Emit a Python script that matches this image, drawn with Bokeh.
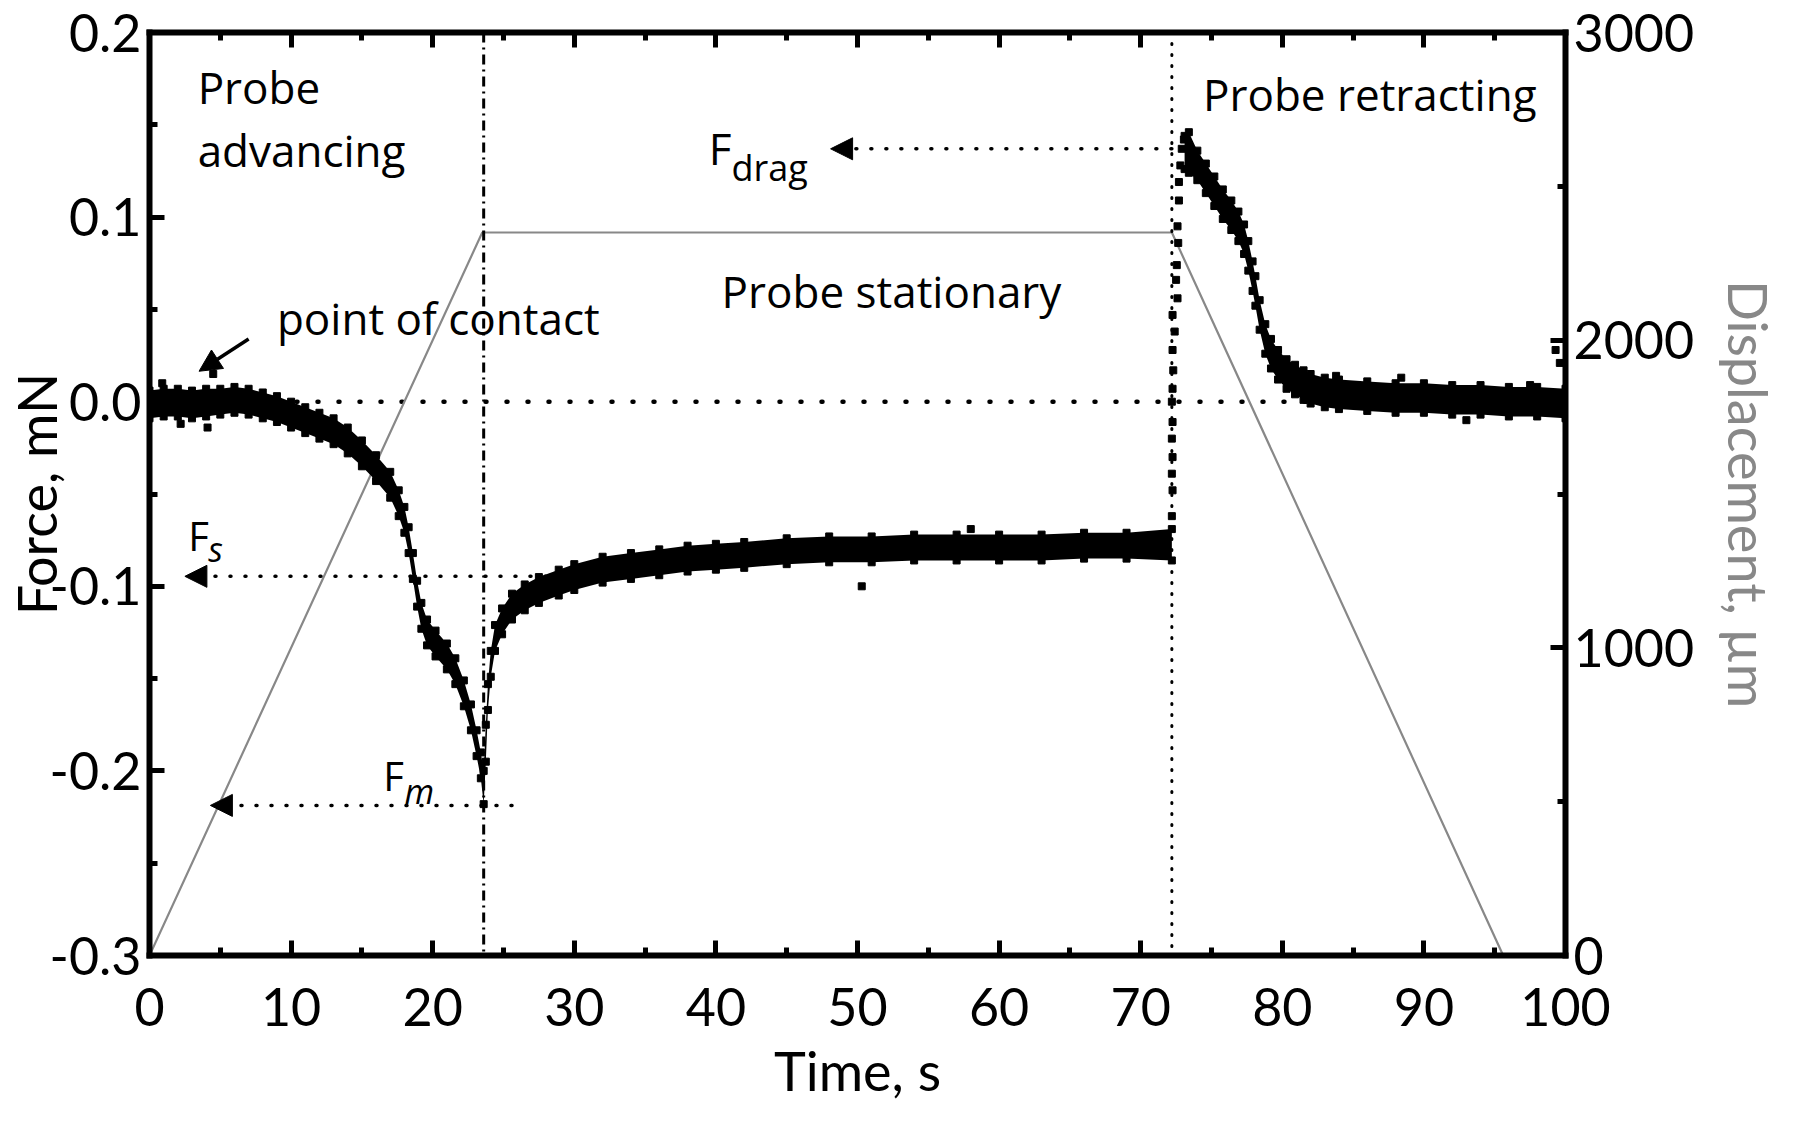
from bokeh.plotting import figure
from bokeh.models import (Range1d, LinearAxis, FixedTicker, Span, Arrow,
                          NormalHead, Label, ColumnDataSource, PrintfTickFormatter)
from bokeh.embed import file_html
from bokeh.resources import INLINE

# ---------------- data ----------------
# force band while the probe advances and rests (time s, upper / lower edge mN)
t_contact = [0.0, 1.0, 2.0, 3.0, 4.0, 5.0, 6.0, 7.0, 8.0, 9.0, 10.0, 11.0, 12.0,
             13.0, 14.0, 15.0, 16.0, 17.0, 17.6, 18.0, 18.3, 18.6, 18.9, 19.2,
             19.6, 20.2, 21.0, 21.6, 22.2, 22.7, 23.1, 23.4, 23.6, 23.75, 23.9,
             24.1, 24.4, 24.9, 25.6, 26.5, 27.5, 28.9, 30.0, 32.0, 34.0, 36.0,
             38.0, 40.0, 42.0, 45.0, 48.0, 51.0, 54.0, 57.0, 60.0, 63.0, 66.0,
             69.0, 72.2]
f_contact_hi = [0.006, 0.007, 0.007, 0.006, 0.007, 0.007, 0.008, 0.007, 0.005,
                0.003, 0.000, -0.003, -0.006, -0.009, -0.014, -0.021, -0.029,
                -0.038, -0.048, -0.057, -0.068, -0.082, -0.097, -0.109, -0.118,
                -0.124, -0.131, -0.139, -0.151, -0.164, -0.178, -0.190, -0.200,
                -0.175, -0.153, -0.135, -0.121, -0.112, -0.104, -0.099, -0.095,
                -0.091, -0.088, -0.084, -0.082, -0.080, -0.078, -0.077, -0.076,
                -0.074, -0.073, -0.073, -0.072, -0.072, -0.072, -0.072, -0.071,
                -0.071, -0.069]
f_contact_lo = [-0.009, -0.008, -0.008, -0.009, -0.008, -0.007, -0.006, -0.007,
                -0.009, -0.011, -0.014, -0.017, -0.020, -0.023, -0.028, -0.035,
                -0.043, -0.052, -0.062, -0.071, -0.082, -0.096, -0.111, -0.123,
                -0.132, -0.138, -0.145, -0.153, -0.165, -0.178, -0.192, -0.204,
                -0.218, -0.195, -0.167, -0.149, -0.135, -0.126, -0.118, -0.113,
                -0.109, -0.105, -0.102, -0.098, -0.096, -0.094, -0.092, -0.091,
                -0.090, -0.088, -0.087, -0.087, -0.086, -0.086, -0.086, -0.086,
                -0.085, -0.085, -0.086]

# force band while the probe retracts
t_retract = [73.1, 73.4, 74.0, 74.6, 75.2, 75.8, 76.4, 76.9, 77.3, 77.6, 77.9,
             78.1, 78.4, 78.8, 79.2, 79.7, 80.3, 80.9, 81.5, 82.0, 83.0, 84.0,
             86.0, 88.0, 90.0, 92.0, 94.0, 96.0, 98.0, 100.0]
f_retract_hi = [0.144, 0.146, 0.136, 0.129, 0.122, 0.115, 0.109, 0.103, 0.096,
                0.087, 0.076, 0.068, 0.055, 0.042, 0.034, 0.028, 0.023, 0.020,
                0.017, 0.015, 0.013, 0.012, 0.011, 0.010, 0.010, 0.009, 0.009,
                0.008, 0.008, 0.007]
f_retract_lo = [0.126, 0.124, 0.120, 0.113, 0.106, 0.099, 0.093, 0.087, 0.080,
                0.071, 0.060, 0.052, 0.039, 0.026, 0.018, 0.012, 0.007, 0.004,
                0.001, -0.001, -0.003, -0.004, -0.005, -0.006, -0.006, -0.007,
                -0.007, -0.008, -0.008, -0.009]

# sparse points: the jump when the probe starts retracting, and outliers
jump_t = [72.2, 72.25, 72.2, 72.25, 72.2, 72.25, 72.2, 72.25, 72.3, 72.25, 72.4,
          72.25, 72.6, 72.5, 72.55, 72.65, 72.6, 72.7, 72.7, 72.8, 72.9, 73.05]
jump_f = [-0.062, -0.048, -0.039, -0.030, -0.020, -0.011, 0.000, 0.007, 0.017,
          0.028, 0.038, 0.047, 0.056, 0.066, 0.074, 0.086, 0.095, 0.109, 0.119,
          0.128, 0.137, 0.142]
outlier_t = [0.9, 4.5, 4.1, 2.2, 50.3, 58.0, 83.8, 88.4, 93.0, 99.3, 99.6, 97.5]
outlier_f = [0.010, 0.015, -0.014, -0.012, -0.100, -0.069, 0.014, 0.013, -0.010,
             0.028, 0.021, 0.009]

# probe displacement (right axis)
disp_t = [0.0, 23.5, 72.2, 95.6]
disp_um = [0.0, 2350.0, 2350.0, 0.0]

# phase boundaries and force levels
T_CONTACT = 23.6
T_RETRACT = 72.2
F_S = -0.0946
F_M = -0.2187
F_DRAG = 0.137

x_ticks = [0, 10, 20, 30, 40, 50, 60, 70, 80, 90, 100]
x_minor = [5, 15, 25, 35, 45, 55, 65, 75, 85, 95]
y_ticks = [-0.3, -0.2, -0.1, 0.0, 0.1, 0.2]
y_minor = [-0.25, -0.15, -0.05, 0.05, 0.15]
d_ticks = [0, 1000, 2000, 3000]
d_minor = [500, 1500, 2500]

TICK_FONT = "Lato"
TITLE_FONT = "Lato"
NOTE_FONT = "Open Sans"
GRAY = "#888888"

# ---------------- figure ----------------
p = figure(width=1784, height=1105, output_backend="svg", toolbar_location=None,
           x_range=Range1d(0, 100), y_range=Range1d(-0.3, 0.2),
           min_border_left=142, min_border_right=212, min_border_top=32,
           min_border_bottom=149)
p.extra_y_ranges = {"disp": Range1d(0, 3000)}
p.grid.visible = False
p.outline_line_color = None
p.background_fill_color = "white"
p.border_fill_color = "white"

top = LinearAxis()
p.add_layout(top, "above")
right = LinearAxis(y_range_name="disp")
p.add_layout(right, "right")

left = p.yaxis[0]
bottom = p.below[0]

for ax in (left, bottom, top, right):
    ax.axis_line_width = 6
    ax.axis_line_cap = "square"
    ax.major_tick_line_width = 5
    ax.minor_tick_line_width = 5
    ax.major_tick_in = 15
    ax.major_tick_out = 0
    ax.minor_tick_in = 8
    ax.minor_tick_out = 0
    ax.major_label_text_font = TICK_FONT
    ax.major_label_text_font_size = "52px"
    ax.major_label_text_color = "black"
    ax.axis_label_text_font = TITLE_FONT
    ax.axis_label_text_font_size = "54px"
    ax.axis_label_text_font_style = "normal"
    ax.axis_label_text_color = "black"

left.ticker = FixedTicker(ticks=y_ticks, minor_ticks=y_minor)
left.formatter = PrintfTickFormatter(format="%.1f")
left.major_label_standoff = 8
left.axis_label = "Force, mN"
left.axis_label_standoff = -22

bottom.ticker = FixedTicker(ticks=x_ticks, minor_ticks=x_minor)
bottom.major_label_standoff = 32
bottom.axis_label = "Time, s"
bottom.axis_label_standoff = 9

top.ticker = FixedTicker(ticks=x_ticks, minor_ticks=x_minor)
top.major_label_overrides = {v: "" for v in x_ticks}
top.major_label_text_font_size = "1px"
top.major_label_standoff = 0

right.ticker = FixedTicker(ticks=d_ticks, minor_ticks=d_minor)
right.major_label_standoff = 8
right.axis_label = "Displacement, µm"
right.axis_label_text_color = GRAY
right.axis_label_standoff = 19

# ---------------- reference lines ----------------
p.add_layout(Span(location=0.0, dimension="width", line_color="black",
                  line_width=4.5, line_dash="1 20", line_cap="round", level="underlay"))
p.add_layout(Span(location=T_CONTACT, dimension="height", line_color="black",
                  line_width=3, line_dash="10 5 2 5"))
p.add_layout(Span(location=T_RETRACT, dimension="height", line_color="black",
                  line_width=3, line_dash="1 10", line_cap="round"))

# ---------------- displacement ----------------
p.line(disp_t, disp_um, y_range_name="disp", line_color=GRAY, line_width=2.2)

# ---------------- force data ----------------
src_c = ColumnDataSource(dict(t=t_contact, hi=f_contact_hi, lo=f_contact_lo))
src_r = ColumnDataSource(dict(t=t_retract, hi=f_retract_hi, lo=f_retract_lo))
for src in (src_c, src_r):
    p.varea(x="t", y1="lo", y2="hi", source=src, fill_color="black")
    p.scatter(x="t", y="hi", source=src, marker="square", size=7, color="black")
    p.scatter(x="t", y="lo", source=src, marker="square", size=7, color="black")
p.scatter(jump_t, jump_f, marker="square", size=7, color="black")
p.scatter(outlier_t, outlier_f, marker="square", size=7, color="black")

# ---------------- arrows ----------------
def dotted_arrow(x0, x1, y):
    p.add_layout(Arrow(end=NormalHead(size=22, fill_color="black", line_color="black"),
                       x_start=x0, y_start=y, x_end=x1, y_end=y,
                       line_color="black", line_width=3.5, line_dash="1 14",
                       line_cap="round"))

dotted_arrow(28.0, 2.5, F_S)
dotted_arrow(25.6, 4.3, F_M)
dotted_arrow(T_RETRACT, 48.1, F_DRAG)
p.add_layout(Arrow(end=NormalHead(size=22, fill_color="black", line_color="black"),
                   x_start=7.0, y_start=0.034, x_end=3.5, y_end=0.0165,
                   line_color="black", line_width=3.5))

# ---------------- texts (y = vertical centre of the glyphs) ----------------
def lab(x, y, text, size="44px", style="normal", font=NOTE_FONT):
    p.add_layout(Label(x=x, y=y, text=text, text_font=font, text_font_size=size,
                       text_font_style=style, text_color="black",
                       text_baseline="alphabetic", text_align="left"))

lab(3.4, 0.1705, "Probe")
lab(3.4, 0.1365, "advancing")
lab(9.0, 0.0455, "point of contact")
lab(40.4, 0.060, "Probe stationary")
lab(74.4, 0.1667, "Probe retracting")
lab(2.74, -0.0725, "F", "40px")
lab(4.15, -0.0800, "s", "34px", "italic")
lab(16.5, -0.2023, "F", "40px")
lab(18.0, -0.2108, "m", "34px", "italic")
lab(39.5, 0.1376, "F", "44px")
lab(41.1, 0.1270, "drag", "36px")

open("out.html", "w").write(file_html(p, INLINE))
